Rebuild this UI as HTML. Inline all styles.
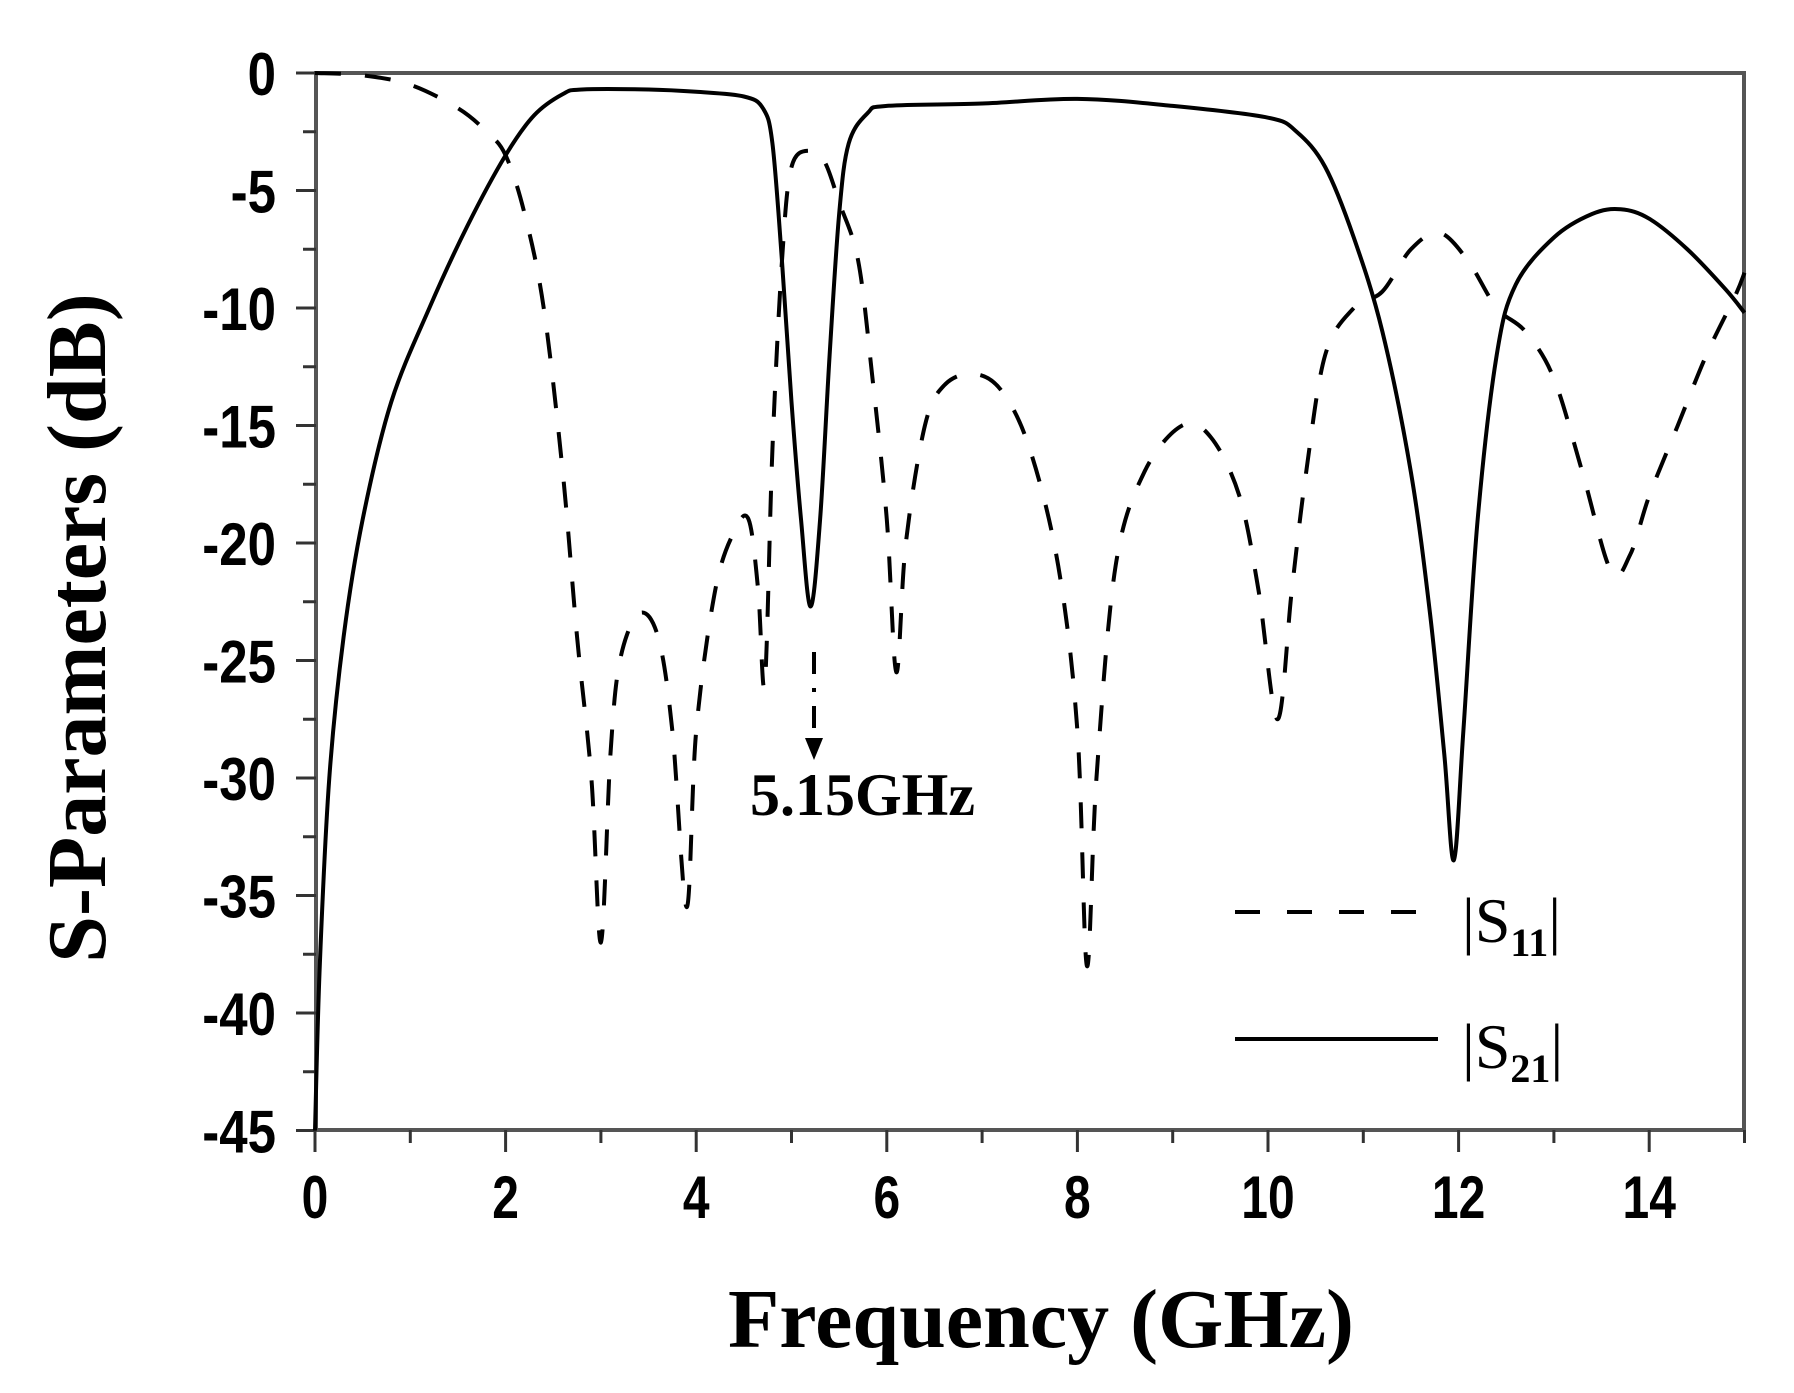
<!DOCTYPE html>
<html><head><meta charset="utf-8"><style>
html,body{margin:0;padding:0;background:#fff;}
svg{display:block;}
.tk{font-family:"Liberation Sans",sans-serif;font-weight:bold;font-size:60px;fill:#000;}
.sr{font-family:"Liberation Serif",serif;font-weight:bold;fill:#000;}
</style></head><body>
<svg id="s" width="1794" height="1393" viewBox="0 0 1794 1393" xmlns="http://www.w3.org/2000/svg">
<rect width="1794" height="1393" fill="#fff"/>
<g id="axes" stroke="#555" stroke-width="4" fill="none">
<rect x="316" y="73" width="1428" height="1057"/>
</g>
<g id="ticks" stroke="#333" stroke-width="3"></g>
<g id="labels"></g>
<path id="s11" fill="none" stroke="#000" stroke-width="4" stroke-dasharray="26,24"/>
<path id="s21" fill="none" stroke="#000" stroke-width="4"/>
<line x1="814" y1="652" x2="814" y2="745" stroke="#000" stroke-width="4" stroke-dasharray="22,14,4,14"/>
<polygon points="805,738 823,738 814,760" fill="#000"/>
<text class="sr" x="750" y="815" font-size="60">5.15GHz</text>
<line x1="1235" y1="912" x2="1420" y2="912" stroke="#000" stroke-width="4" stroke-dasharray="25,27"/>
<line x1="1235" y1="1039" x2="1438" y2="1039" stroke="#000" stroke-width="4"/>
<text class="sr" x="1462" y="942" font-size="64" style="font-weight:normal">|S<tspan font-size="40" dy="14" font-weight="bold">11</tspan><tspan dy="-14">|</tspan></text>
<text class="sr" x="1462" y="1068" font-size="64" style="font-weight:normal">|S<tspan font-size="40" dy="14" font-weight="bold">21</tspan><tspan dy="-14">|</tspan></text>
<text class="sr" x="1041" y="1347" font-size="84" text-anchor="middle">Frequency (GHz)</text>
<text class="sr" transform="translate(105,628) rotate(-90)" font-size="84" text-anchor="middle">S-Parameters (dB)</text>
</svg>
<script>
var X=function(f){return 315+f*95.3},Y=function(d){return 73-d*23.5};
var tk=document.getElementById('ticks'),lb=document.getElementById('labels'),ns='http://www.w3.org/2000/svg';
function el(p,t,a,txt){var e=document.createElementNS(ns,t);for(var k in a)e.setAttribute(k,a[k]);if(txt!==undefined)e.textContent=txt;p.appendChild(e);}
for(var f=0;f<=15;f++){var x=X(f);el(tk,'line',{x1:x,y1:1130,x2:x,y2:f%2?1143:1152});
 if(f%2==0)el(lb,'text',{class:'tk',x:x,y:1218,'text-anchor':'middle',transform:'translate('+x+',0) scale(0.8,1) translate('+(-x)+',0)'},f);}
for(var d=0;d>=-45;d-=2.5){var y=Y(d);var maj=(d%5==0);el(tk,'line',{x1:maj?296:303,y1:y,x2:316,y2:y});
 if(maj)el(lb,'text',{class:'tk',x:276,y:y+22,'text-anchor':'end',transform:'translate(276,0) scale(0.85,1) translate(-276,0)'},d);}
function path(pts){var P=pts.map(function(p){return [X(p[0]),Y(p[1])]});var s='M'+P[0][0]+','+P[0][1];
 for(var i=0;i<P.length-1;i++){var p0=P[Math.max(i-1,0)],p1=P[i],p2=P[i+1],p3=P[Math.min(i+2,P.length-1)];
 s+=' C'+(p1[0]+(p2[0]-p0[0])/6)+','+(p1[1]+(p2[1]-p0[1])/6)+' '+(p2[0]-(p3[0]-p1[0])/6)+','+(p2[1]-(p3[1]-p1[1])/6)+' '+p2[0]+','+p2[1];}return s;}
var s21=[[0,-45],[0.05,-38],[0.15,-30],[0.3,-24],[0.5,-19],[0.8,-14],[1.2,-10],[1.6,-6.5],[2,-3.5],[2.3,-1.8],[2.6,-0.9],[2.8,-0.7],[3.5,-0.7],[4,-0.8],[4.5,-1],[4.7,-1.5],[4.8,-3],[4.9,-8],[5.0,-14],[5.1,-19],[5.2,-22.7],[5.3,-19],[5.4,-12],[5.5,-6],[5.6,-3],[5.8,-1.7],[6,-1.4],[7,-1.3],[8,-1.1],[9,-1.4],[10,-1.9],[10.3,-2.5],[10.6,-4],[10.9,-7],[11.2,-11],[11.5,-17],[11.7,-23],[11.85,-29],[11.95,-33.5],[12.05,-28],[12.2,-19],[12.4,-12],[12.6,-9],[13,-7],[13.4,-6],[13.7,-5.8],[14,-6.2],[14.4,-7.5],[14.8,-9.2],[15,-10.2]];
var s11=[[0,0],[0.5,-0.1],[1,-0.5],[1.5,-1.5],[1.8,-2.5],[2,-3.5],[2.2,-6],[2.4,-10],[2.6,-17],[2.75,-24],[2.9,-30],[3.0,-37],[3.1,-29],[3.2,-25],[3.4,-23],[3.6,-24],[3.75,-28],[3.9,-35.5],[4.0,-28],[4.2,-22],[4.4,-19.5],[4.55,-19],[4.65,-22],[4.72,-26],[4.8,-16],[4.9,-8],[5.0,-4],[5.2,-3.3],[5.35,-3.8],[5.5,-5.5],[5.7,-8],[5.85,-13],[6.0,-19],[6.1,-25.5],[6.2,-20],[6.4,-15],[6.6,-13.3],[6.9,-12.8],[7.2,-13.5],[7.5,-16],[7.8,-21],[8.0,-28],[8.1,-38],[8.2,-30],[8.4,-21],[8.7,-17],[9.1,-15],[9.4,-15.5],[9.7,-18],[9.9,-22],[10.1,-27.5],[10.25,-22],[10.4,-17],[10.6,-12],[10.9,-10],[11.2,-9.3],[11.5,-7.5],[11.8,-6.8],[12.1,-8],[12.4,-10],[12.7,-11],[13,-13],[13.3,-17],[13.6,-21.2],[13.8,-20.5],[14,-18],[14.3,-15],[14.6,-12],[14.9,-9.5],[15,-8.5]];
document.getElementById('s21').setAttribute('d',path(s21));
document.getElementById('s11').setAttribute('d',path(s11));
</script>
</body></html>
